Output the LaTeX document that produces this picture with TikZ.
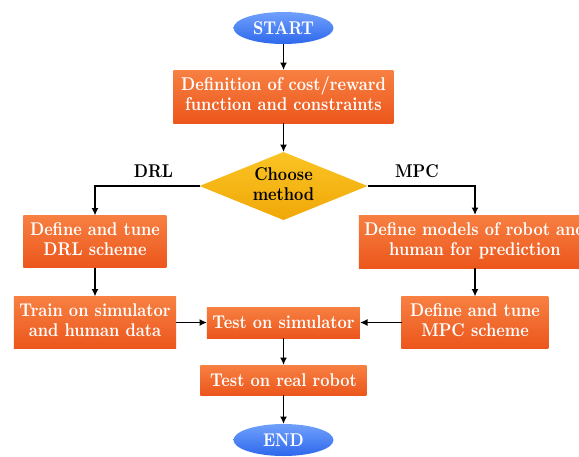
\documentclass[tikz,border=0pt]{standalone}
\usepackage{fontspec}
\usepackage{tikz}
\usetikzlibrary{matrix,arrows.meta,shapes.geometric}

\newfontfamily\flowfam{lmroman10-bold.otf}[FakeStretch=0.87]

\definecolor{boxtop}{RGB}{247,128,66}
\definecolor{boxbot}{RGB}{236,86,28}
\definecolor{endtop}{RGB}{112,160,252}
\definecolor{endbot}{RGB}{46,104,236}
\definecolor{choosetop}{RGB}{250,196,36}
\definecolor{choosebot}{RGB}{240,168,8}

\newcommand{\flowfont}{\flowfam\fontsize{18.5}{20}\selectfont}
\newcommand{\twoline}[2]{\begin{tabular}{@{}c@{}}#1\\#2\end{tabular}}

\tikzset{
  stepbox/.style={rectangle, top color=boxtop, bottom color=boxbot, text=white, font=\flowfont, inner sep=2pt, outer sep=0pt},
  terminal/.style={ellipse, top color=endtop, bottom color=endbot, text=white, font=\flowfont, minimum width=100pt, minimum height=32pt, inner sep=0pt, outer sep=0pt},
  decision/.style={diamond, aspect=2.5, top color=choosetop, bottom color=choosebot, font=\flowfont, minimum width=168pt, minimum height=68pt, inner sep=0pt, outer sep=0pt},
  branch/.style={font=\flowfont, inner sep=0pt, above=8pt}
}

\begin{document}
\begin{tikzpicture}[>={Latex[length=7.5pt,width=7pt]}, line width=1.6pt]
 \useasboundingbox (0,0) rectangle (579pt,-456pt);
 \clip (0,0) rectangle (579pt,-456pt);
 \matrix (m) [matrix of nodes, column sep=-2.5pt, row sep={0pt,between origins}, nodes={anchor=center}, matrix anchor=m-1-2.center] at (283.5pt,-28pt)
  {
    & |[terminal]| START \\[68.5pt]
    & |[stepbox, minimum width=220pt, minimum height=53pt]| \twoline{Definition of cost/reward}{function and constraints} \\[89.5pt]
    & |[decision]| \twoline{Choose}{method} \\[55.5pt]
    |[stepbox, minimum width=143pt, minimum height=52pt]| \twoline{Define and tune}{DRL scheme} & &[-32pt] |[stepbox, minimum width=232pt, minimum height=53pt]| \twoline{Define models of robot and}{human for prediction} \\[81pt]
    |[stepbox, minimum width=162pt, minimum height=52pt]| \twoline{Train on simulator}{and human data} & |[stepbox, minimum width=153pt, minimum height=31pt]| Test on simulator &[-32pt] |[stepbox, minimum width=147pt, minimum height=52pt]| \twoline{Define and tune}{MPC scheme} \\[57.5pt]
    & |[stepbox, minimum width=166pt, minimum height=30pt]| Test on real robot \\[60pt]
    & |[terminal]| END \\
  };
 \path[->]
  (m-1-2) edge (m-2-2)
  (m-2-2) edge (m-3-2)
  (m-4-1) edge (m-5-1)
  (m-4-3) edge (m-5-3)
  (m-5-1) edge (m-5-2)
  (m-5-3) edge (m-5-2)
  (m-5-2) edge (m-6-2)
  (m-6-2) edge (m-7-2);
 \draw[->] (m-3-2.west) -| node[branch, pos=0.22] {DRL} (m-4-1);
 \draw[->] (m-3-2.east) -| node[branch, pos=0.23] {MPC} (m-4-3);
\end{tikzpicture}
\end{document}
